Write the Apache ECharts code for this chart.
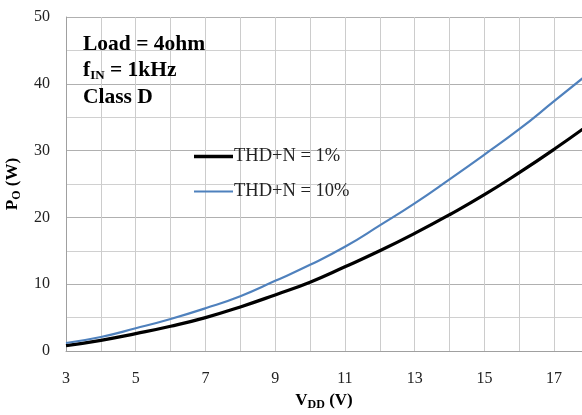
<!DOCTYPE html>
<html><head><meta charset="utf-8">
<script src="https://cdn.jsdelivr.net/npm/echarts@6/dist/echarts.min.js"></script>
<style>html,body{margin:0;padding:0;background:#fff}#c{width:582px;height:415px}</style>
</head><body><div id="c"></div>
<script>
const vdd = [3,4,5,6,7,8,9,10,11,12,13,14,15,16,17,18];
const thd1 = [0.8,1.6,2.6,3.7,5.0,6.6,8.4,10.3,12.6,15.0,17.6,20.4,23.4,26.7,30.2,33.9];
const thd10 = [1.2,2.1,3.4,4.8,6.4,8.2,10.5,12.9,15.6,18.8,22.1,25.7,29.4,33.2,37.4,41.6];
const seriesNames = ['THD+N = 1%','THD+N = 10%'];
const xTicks = [3,5,7,9,11,13,15,17];
const yTicks = [0,10,20,30,40,50];

const serif = '"Liberation Serif","Times New Roman",serif';
const legText = {fontFamily:serif,fontSize:18.5,color:'#222',padding:[0,0,0,-4]};
const chart = echarts.init(document.getElementById('c'));
chart.setOption({
  animation:false,
  grid:{left:66,top:17,right:0,bottom:64,outerBoundsMode:'none',containLabel:false},
  title:{
    left:83, top:31, padding:0,
    text:'{b|Load = 4ohm}\n{b|f}{s|IN}{b| = 1kHz}\n{b|Class D}',
    textStyle:{rich:{
      b:{fontFamily:serif,fontWeight:'bold',fontSize:21.5,color:'#000',lineHeight:26.5},
      s:{fontFamily:serif,fontWeight:'bold',fontSize:13,color:'#000',padding:[9,0,0,0],lineHeight:26.5}
    }}
  },
  legend:[
    {left:194, top:147, padding:0, itemWidth:39, itemHeight:3.5, icon:'rect',
      data:[seriesNames[0]], textStyle:legText},
    {left:194, top:182, padding:0, itemWidth:39, itemHeight:2.2, icon:'rect',
      data:[seriesNames[1]], textStyle:legText}
  ],
  xAxis:{
    type:'value', min:3, max:17.8, interval:1,
    name:'{b|V}{s|DD}{b| (V)}', nameLocation:'middle', nameGap:40,
    nameTextStyle:{rich:{
      b:{fontFamily:serif,fontWeight:'bold',fontSize:17,color:'#000'},
      s:{fontFamily:serif,fontWeight:'bold',fontSize:12,color:'#000',padding:[8,0,0,0]}
    }},
    axisLine:{lineStyle:{color:'#a0a0a0',width:1}},
    axisTick:{show:false},
    axisLabel:{fontFamily:serif,fontSize:16,color:'#222',margin:20,
      formatter:v=>xTicks.indexOf(v)>=0?String(v):''},
    splitLine:{show:true,lineStyle:{color:'#cccccc',width:1}}
  },
  yAxis:{
    type:'value', min:0, max:50, interval:5,
    name:'{b|P}{s|O}{b| (W)}', nameLocation:'middle', nameGap:36,
    nameTextStyle:{rich:{
      b:{fontFamily:serif,fontWeight:'bold',fontSize:17,color:'#000'},
      s:{fontFamily:serif,fontWeight:'bold',fontSize:12,color:'#000',padding:[8,0,0,0]}
    }},
    axisLine:{show:true,lineStyle:{color:'#a0a0a0',width:1}},
    axisTick:{show:false},
    axisLabel:{fontFamily:serif,fontSize:16,color:'#222',margin:16,
      formatter:v=>yTicks.indexOf(v)>=0?String(v):''},
    splitLine:{show:true,lineStyle:{color:['#b0b0b0','#d0d0d0'],width:1}}
  },
  series:[
    {name:seriesNames[0],type:'line',smooth:true,symbol:'none',
      data:vdd.map((x,i)=>[x,thd1[i]]),
      lineStyle:{color:'#000',width:3.2},itemStyle:{color:'#000'}},
    {name:seriesNames[1],type:'line',smooth:true,symbol:'none',
      data:vdd.map((x,i)=>[x,thd10[i]]),
      lineStyle:{color:'#4f81bd',width:2.2},itemStyle:{color:'#4f81bd'}}
  ]
});
</script></body></html>
